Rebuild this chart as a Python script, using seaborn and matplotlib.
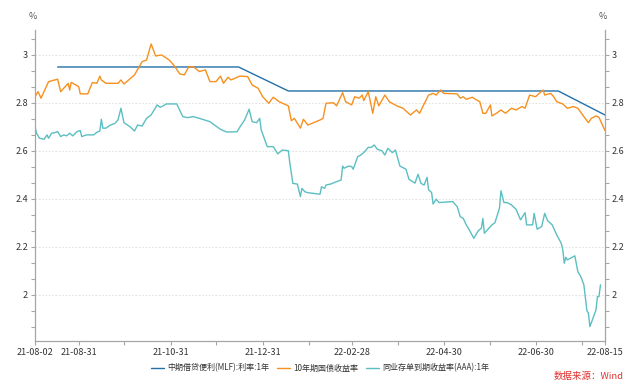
import numpy as np
import pandas as pd
import matplotlib
matplotlib.use("Agg")
import matplotlib.pyplot as plt
import matplotlib.dates as mdates
from matplotlib.ticker import MultipleLocator, FuncFormatter
import seaborn as sns

# MLF 1Y rate (monthly operations)
mlf_dates = ["2021-08-17", "2021-09-15", "2021-10-15", "2021-11-15", "2021-12-15",
             "2022-01-17", "2022-02-15", "2022-03-15", "2022-04-15", "2022-05-16",
             "2022-06-15", "2022-07-15", "2022-08-15"]
mlf_vals = [2.95, 2.95, 2.95, 2.95, 2.95, 2.85, 2.85, 2.85, 2.85, 2.85, 2.85, 2.85, 2.75]

# 10Y government bond yield
cgb_dates = ["2021-08-02", "2021-08-04", "2021-08-06", "2021-08-11", "2021-08-17", "2021-08-19",
             "2021-08-24", "2021-08-25", "2021-08-26", "2021-08-31", "2021-09-01", "2021-09-06",
             "2021-09-07", "2021-09-09", "2021-09-12", "2021-09-14", "2021-09-15", "2021-09-18",
             "2021-09-26", "2021-09-28", "2021-09-30", "2021-10-07", "2021-10-12", "2021-10-15",
             "2021-10-18", "2021-10-21", "2021-10-25", "2021-10-30", "2021-11-02", "2021-11-04",
             "2021-11-06", "2021-11-09", "2021-11-12", "2021-11-15", "2021-11-19", "2021-11-23",
             "2021-11-26", "2021-11-30", "2021-12-03", "2021-12-05", "2021-12-08", "2021-12-10",
             "2021-12-14", "2021-12-16", "2021-12-21", "2021-12-24", "2021-12-28", "2021-12-31",
             "2022-01-04", "2022-01-07", "2022-01-11", "2022-01-17", "2022-01-19", "2022-01-21",
             "2022-01-25", "2022-01-27", "2022-01-30", "2022-02-07", "2022-02-09", "2022-02-11",
             "2022-02-16", "2022-02-18", "2022-02-22", "2022-02-24", "2022-02-28", "2022-03-02",
             "2022-03-05", "2022-03-07", "2022-03-08", "2022-03-11", "2022-03-14", "2022-03-16",
             "2022-03-18", "2022-03-22", "2022-03-25", "2022-03-30", "2022-04-03", "2022-04-08",
             "2022-04-12", "2022-04-14", "2022-04-20", "2022-04-23", "2022-04-25", "2022-04-28",
             "2022-04-30", "2022-05-09", "2022-05-11", "2022-05-13", "2022-05-15", "2022-05-19",
             "2022-05-22", "2022-05-24", "2022-05-26", "2022-05-28", "2022-05-31", "2022-06-01",
             "2022-06-04", "2022-06-07", "2022-06-10", "2022-06-14", "2022-06-17", "2022-06-21",
             "2022-06-23", "2022-06-26", "2022-06-30", "2022-07-02", "2022-07-05", "2022-07-06",
             "2022-07-10", "2022-07-12", "2022-07-14", "2022-07-18", "2022-07-21", "2022-07-25",
             "2022-07-28", "2022-08-01", "2022-08-04", "2022-08-06", "2022-08-09", "2022-08-11",
             "2022-08-15"]
cgb_vals = [2.826, 2.847, 2.820, 2.889, 2.899, 2.847, 2.882, 2.854, 2.886, 2.868, 2.838, 2.838,
            2.854, 2.885, 2.882, 2.912, 2.896, 2.882, 2.882, 2.896, 2.879, 2.917, 2.972, 2.979,
            3.046, 2.996, 3.000, 2.979, 2.958, 2.940, 2.921, 2.917, 2.951, 2.951, 2.931, 2.938,
            2.889, 2.889, 2.912, 2.882, 2.907, 2.896, 2.907, 2.912, 2.910, 2.875, 2.861, 2.826,
            2.799, 2.824, 2.805, 2.788, 2.726, 2.736, 2.695, 2.732, 2.708, 2.729, 2.736, 2.799,
            2.801, 2.788, 2.843, 2.805, 2.792, 2.826, 2.820, 2.833, 2.810, 2.847, 2.757, 2.826,
            2.788, 2.833, 2.805, 2.788, 2.778, 2.750, 2.771, 2.757, 2.833, 2.840, 2.833, 2.854,
            2.840, 2.838, 2.820, 2.826, 2.815, 2.824, 2.812, 2.805, 2.757, 2.757, 2.792, 2.746,
            2.757, 2.771, 2.757, 2.778, 2.771, 2.785, 2.778, 2.833, 2.826, 2.838, 2.854, 2.833,
            2.840, 2.826, 2.805, 2.796, 2.778, 2.785, 2.778, 2.743, 2.718, 2.736, 2.746, 2.740,
            2.685]

# AAA 1Y NCD yield
ncd_dates = ["2021-08-02", "2021-08-03", "2021-08-05", "2021-08-08", "2021-08-10", "2021-08-11",
             "2021-08-13", "2021-08-15", "2021-08-17", "2021-08-19", "2021-08-21", "2021-08-23",
             "2021-08-25", "2021-08-27", "2021-08-30", "2021-09-01", "2021-09-02", "2021-09-05",
             "2021-09-10", "2021-09-12", "2021-09-14", "2021-09-15", "2021-09-16", "2021-09-18",
             "2021-09-21", "2021-09-24", "2021-09-26", "2021-09-28", "2021-09-30", "2021-10-04",
             "2021-10-07", "2021-10-09", "2021-10-12", "2021-10-15", "2021-10-18", "2021-10-22",
             "2021-10-24", "2021-10-26", "2021-10-28", "2021-11-04", "2021-11-08", "2021-11-11",
             "2021-11-15", "2021-11-19", "2021-11-26", "2021-12-03", "2021-12-07", "2021-12-14",
             "2021-12-16", "2021-12-19", "2021-12-22", "2021-12-24", "2021-12-27", "2021-12-29",
             "2021-12-30", "2022-01-03", "2022-01-07", "2022-01-10", "2022-01-13", "2022-01-17",
             "2022-01-18", "2022-01-20", "2022-01-23", "2022-01-25", "2022-01-26", "2022-01-28",
             "2022-01-30", "2022-02-07", "2022-02-08", "2022-02-10", "2022-02-11", "2022-02-14",
             "2022-02-18", "2022-02-21", "2022-02-22", "2022-02-23", "2022-02-26", "2022-02-28",
             "2022-03-01", "2022-03-04", "2022-03-06", "2022-03-08", "2022-03-11", "2022-03-13",
             "2022-03-15", "2022-03-17", "2022-03-20", "2022-03-22", "2022-03-24", "2022-03-27",
             "2022-03-29", "2022-04-01", "2022-04-05", "2022-04-07", "2022-04-11", "2022-04-13",
             "2022-04-15", "2022-04-17", "2022-04-19", "2022-04-20", "2022-04-22", "2022-04-23",
             "2022-04-25", "2022-04-27", "2022-05-06", "2022-05-09", "2022-05-11", "2022-05-13",
             "2022-05-15", "2022-05-17", "2022-05-20", "2022-05-23", "2022-05-25", "2022-05-26",
             "2022-05-27", "2022-05-29", "2022-06-01", "2022-06-03", "2022-06-06", "2022-06-07",
             "2022-06-09", "2022-06-11", "2022-06-14", "2022-06-17", "2022-06-20", "2022-06-23",
             "2022-06-24", "2022-06-28", "2022-06-29", "2022-07-01", "2022-07-04", "2022-07-06",
             "2022-07-08", "2022-07-11", "2022-07-14", "2022-07-17", "2022-07-18", "2022-07-19",
             "2022-07-20", "2022-07-21", "2022-07-26", "2022-07-28", "2022-07-30", "2022-08-01",
             "2022-08-03", "2022-08-04", "2022-08-05", "2022-08-07", "2022-08-09", "2022-08-10",
             "2022-08-11", "2022-08-12"]
ncd_vals = [2.701, 2.674, 2.653, 2.649, 2.667, 2.653, 2.674, 2.676, 2.681, 2.660, 2.667, 2.663,
            2.674, 2.663, 2.681, 2.685, 2.660, 2.667, 2.667, 2.678, 2.683, 2.732, 2.695, 2.695,
            2.708, 2.715, 2.729, 2.778, 2.718, 2.701, 2.683, 2.708, 2.704, 2.736, 2.750, 2.792,
            2.782, 2.788, 2.796, 2.796, 2.743, 2.739, 2.743, 2.736, 2.722, 2.690, 2.679, 2.680,
            2.701, 2.729, 2.774, 2.722, 2.718, 2.736, 2.688, 2.618, 2.618, 2.588, 2.604, 2.601,
            2.549, 2.465, 2.462, 2.410, 2.444, 2.430, 2.426, 2.420, 2.451, 2.444, 2.458, 2.462,
            2.472, 2.479, 2.537, 2.528, 2.537, 2.535, 2.524, 2.576, 2.583, 2.593, 2.615, 2.615,
            2.625, 2.607, 2.601, 2.583, 2.611, 2.593, 2.604, 2.537, 2.524, 2.482, 2.466, 2.503,
            2.465, 2.458, 2.490, 2.438, 2.427, 2.379, 2.399, 2.385, 2.389, 2.368, 2.326, 2.319,
            2.292, 2.271, 2.236, 2.268, 2.278, 2.319, 2.257, 2.271, 2.292, 2.301, 2.361, 2.434,
            2.385, 2.385, 2.375, 2.357, 2.313, 2.343, 2.292, 2.292, 2.340, 2.274, 2.285, 2.340,
            2.309, 2.292, 2.250, 2.215, 2.188, 2.132, 2.157, 2.146, 2.163, 2.097, 2.076, 2.042,
            1.935, 1.924, 1.868, 1.903, 1.937, 1.993, 1.993, 2.042]

names = ["中期借贷便利(MLF):利率:1年", "10年期国债收益率", "同业存单到期收益率(AAA):1年"]
colors = ["#2470a8", "#f7901e", "#5bbfc2"]

df = pd.concat([
    pd.DataFrame({"date": pd.to_datetime(mlf_dates), "value": mlf_vals, "series": names[0]}),
    pd.DataFrame({"date": pd.to_datetime(cgb_dates), "value": cgb_vals, "series": names[1]}),
    pd.DataFrame({"date": pd.to_datetime(ncd_dates), "value": ncd_vals, "series": names[2]}),
])

sns.set_style("white")
plt.rcParams["font.family"] = ["Noto Sans CJK SC", "DejaVu Sans"]

fig = plt.figure(figsize=(6.4, 3.9), dpi=100)
ax = fig.add_axes([0.0547, 0.1256, 0.8906, 0.7974])

sns.lineplot(data=df, x="date", y="value", hue="series", palette=dict(zip(names, colors)),
             linewidth=1.0, ax=ax)

ax.set_xlim(pd.Timestamp("2021-08-02"), pd.Timestamp("2022-08-15"))
ax.set_ylim(1.808, 3.104)
ax.set_xlabel("")
ax.set_ylabel("")

major_x = pd.to_datetime(["2021-08-02", "2021-08-31", "2021-10-31", "2021-12-31",
                          "2022-02-28", "2022-04-30", "2022-06-30", "2022-08-15"])
minor_x = pd.to_datetime(["2021-09-30", "2021-11-30", "2022-01-31", "2022-03-31",
                          "2022-05-31", "2022-07-31"])
ax.set_xticks(major_x)
ax.set_xticks(minor_x, minor=True)
ax.xaxis.set_major_formatter(mdates.DateFormatter("%y-%m-%d"))

ax.yaxis.set_major_locator(MultipleLocator(0.2))
ax.yaxis.set_minor_locator(MultipleLocator(0.2 / 3))
ax.yaxis.set_major_formatter(FuncFormatter(lambda v, p: "%g" % round(v, 2)))

ax.grid(axis="y", which="major", linestyle=(0, (2, 2)), color="#dcdcdc", linewidth=0.6)
ax.grid(axis="x", visible=False)

for s in ["left", "right", "bottom"]:
    ax.spines[s].set_color("#a6a6a6")
    ax.spines[s].set_linewidth(0.9)
ax.spines["top"].set_visible(False)

ax.tick_params(axis="both", which="both", direction="out", length=3, width=0.8,
               color="#a6a6a6", labelsize=6.5, labelcolor="#333333", pad=2)
ax.tick_params(axis="y", which="both", left=True, right=True, labelleft=True, labelright=True)
ax.tick_params(axis="x", which="both", bottom=True)

ax.text(0.003, 1.03, "%", transform=ax.transAxes, ha="right", va="bottom", fontsize=6.5, color="#555555")
ax.text(1.003, 1.03, "%", transform=ax.transAxes, ha="right", va="bottom", fontsize=6.5, color="#555555")

sns.move_legend(ax, "center", bbox_to_anchor=(0.5, -0.087), ncol=3, frameon=False,
                title=None, fontsize=5.8, handlelength=1.6, columnspacing=1.0, handletextpad=0.4)
for t in ax.get_legend().get_texts():
    t.set_color("#333333")

fig.text(0.974, 0.022, "数据来源：Wind", ha="right", va="bottom", fontsize=6.8, color="#e0312f")

fig.savefig("out.png", dpi=100)
